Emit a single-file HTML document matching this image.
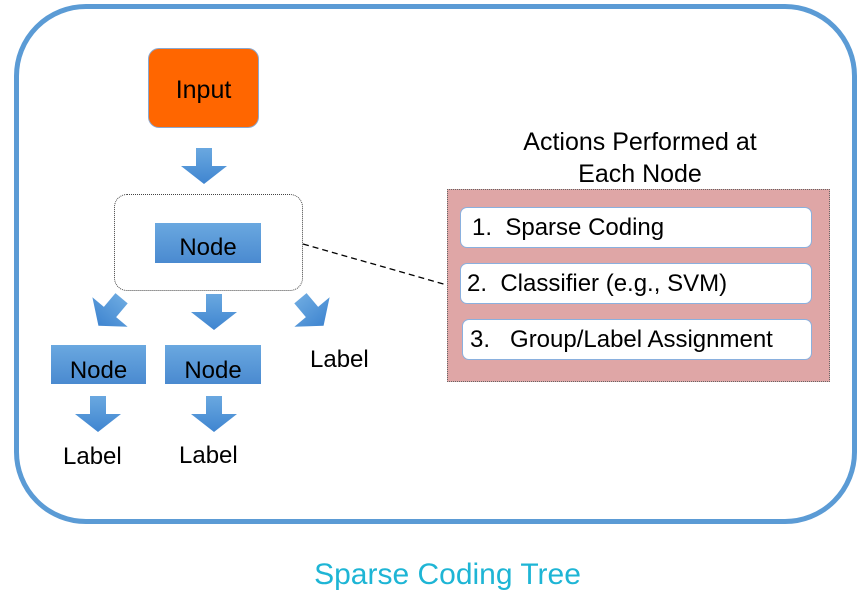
<!DOCTYPE html>
<html><head><style>
body{margin:0;width:863px;height:602px;background:#fff;position:relative;font-family:"Liberation Sans",sans-serif;overflow:hidden}
.a{position:absolute}
.node{position:absolute;background:linear-gradient(#6aa8e0,#4a8ad0);color:#000;font-size:24px;text-align:center;box-sizing:border-box}
.t{position:absolute;font-size:24px;color:#000}
.ib{position:absolute;left:460px;width:352px;height:41px;background:#fff;border:1px solid #8ab0de;border-radius:7px;box-sizing:border-box;font-size:24px;line-height:39px}
</style></head><body>
<div class="a" style="left:14px;top:4px;width:843px;height:520px;border:5px solid #5b9bd5;border-radius:72px;box-sizing:border-box"></div>
<div class="a" style="left:148px;top:48px;width:111px;height:80px;background:#ff6600;border:1px solid #8aa8d0;border-radius:11px;box-sizing:border-box;font-size:25px;text-align:center;line-height:82px">Input</div>
<div class="a" style="left:114px;top:194px;width:189px;height:97px;border:1px dotted #444;border-radius:13px;box-sizing:border-box"></div>
<div class="node" style="left:155px;top:223px;width:106px;height:40px;line-height:50px">Node</div>
<div class="node" style="left:51px;top:345px;width:95px;height:39px;line-height:52px">Node</div>
<div class="node" style="left:165px;top:345px;width:96px;height:39px;line-height:52px">Node</div>
<svg class="a" style="left:0;top:0" width="863" height="602">
<defs><linearGradient id="g" x1="0" y1="0" x2="0" y2="1"><stop offset="0" stop-color="#6aa8e0"/><stop offset="1" stop-color="#3f85d0"/></linearGradient>
<path id="ar" d="M-8,-18 H8 V0 H23 L0,18 L-23,0 H-8 Z" fill="url(#g)"/></defs>
<use href="#ar" x="204" y="166"/>
<use href="#ar" x="214" y="312"/>
<use href="#ar" x="98" y="414"/>
<use href="#ar" x="214" y="414"/>
<use href="#ar" transform="translate(110,312) rotate(40)"/>
<use href="#ar" transform="translate(312,312) rotate(-40)"/>
<line x1="303" y1="244" x2="447" y2="285" stroke="#000" stroke-width="1.3" stroke-dasharray="6,4"/>
</svg>
<div class="t" style="left:310px;top:346px">Label</div>
<div class="t" style="left:63px;top:443px">Label</div>
<div class="t" style="left:179px;top:442px">Label</div>
<div class="a" style="left:447px;top:126px;width:386px;text-align:center;font-size:25px;line-height:32px">Actions Performed at<br>Each Node</div>
<div class="a" style="left:447px;top:189px;width:383px;height:193px;background:#dfa6a6;border:1px dotted #666;box-sizing:border-box"></div>
<div class="ib" style="top:207px;padding-left:11px">1.&nbsp; Sparse Coding</div>
<div class="ib" style="top:263px;padding-left:6px">2.&nbsp; Classifier (e.g., SVM)</div>
<div class="ib" style="top:319px;padding-left:7px;left:462px;width:350px">3.&nbsp;&nbsp; Group/Label Assignment</div>
<div class="a" style="left:0;width:895px;top:558px;text-align:center;font-size:30px;color:#1eb5d5">Sparse Coding Tree</div>
</body></html>
